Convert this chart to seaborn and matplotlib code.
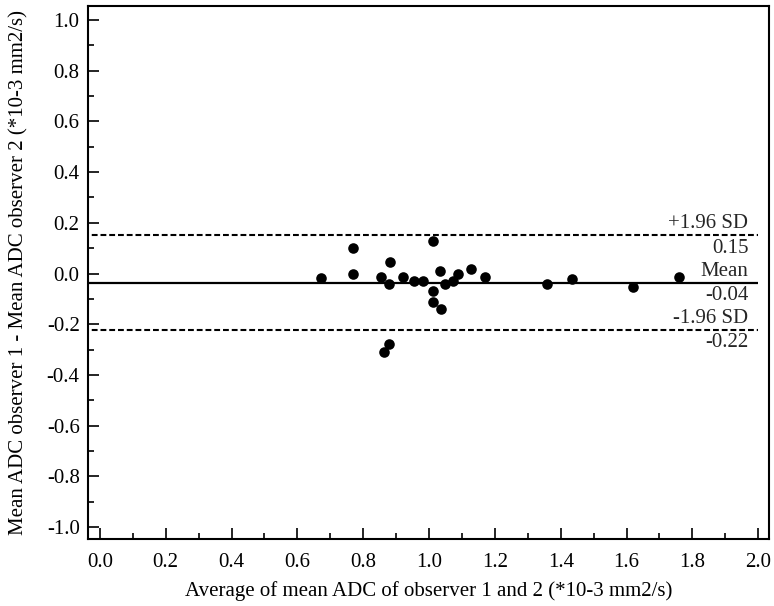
import numpy as np
import pandas as pd
import matplotlib
matplotlib.use("Agg")
import matplotlib.pyplot as plt
from matplotlib.ticker import MultipleLocator
import seaborn as sns

# -- Data ----------------------------------------------------------------------

avg_adc = [0.671, 0.768, 0.768, 0.853, 0.881, 0.877, 0.922, 0.953, 0.983,
           1.011, 1.011, 1.011, 1.033, 1.047, 1.036, 1.072, 1.088, 1.126,
           1.171, 0.877, 0.864, 1.357, 1.434, 1.618, 1.758]
diff_adc = [-0.019, 0.099, 0.000, -0.012, 0.047, -0.040, -0.012, -0.030, -0.030,
            0.130, -0.070, -0.111, 0.009, -0.043, -0.141, -0.030, 0.000, 0.016,
            -0.012, -0.279, -0.309, -0.043, -0.021, -0.052, -0.012]

mean_diff = -0.037
upper_loa = 0.150
lower_loa = -0.224

X_LABEL = "Average of mean ADC of observer 1 and 2 (*10-3 mm2/s)"
Y_LABEL = "Mean ADC observer 1 - Mean ADC observer 2 (*10-3 mm2/s)"

# -- Style ---------------------------------------------------------------------

sns.set_theme(style="white")
plt.rcParams.update({
    "font.family": ["Liberation Serif", "DejaVu Serif"],
    "font.size": 15,
    "axes.linewidth": 1.5,
    "axes.edgecolor": "black",
    "xtick.color": "black",
    "ytick.color": "black",
    "axes.labelcolor": "black",
})

df = pd.DataFrame({"avg": avg_adc, "diff": diff_adc})

fig = plt.figure(figsize=(7.74, 6.06), dpi=100)
ax = fig.add_axes([0.1137, 0.1106, 0.880, 0.8795])

sns.scatterplot(data=df, x="avg", y="diff", ax=ax, color="black",
                s=58, edgecolor="black", linewidth=0, zorder=5)

# Bland-Altman reference lines
x_end = 2.0
ax.hlines(mean_diff, -0.05, x_end, colors="black", linewidth=1.6)
ax.hlines([upper_loa, lower_loa], -0.05, x_end, colors="black",
          linewidth=1.5, linestyles=(0, (2.8, 1.4)))

txt_x = 1.97
for yv, name in [(upper_loa, "+1.96 SD"), (mean_diff, "Mean"), (lower_loa, "-1.96 SD")]:
    ax.text(txt_x, yv + 0.008, name, ha="right", va="bottom", fontsize=15)
    ax.text(txt_x, yv - 0.012, f"{yv:.2f}", ha="right", va="top", fontsize=15)

ax.set_xlim(-0.036, 2.033)
ax.set_ylim(-1.047, 1.055)

ax.xaxis.set_major_locator(MultipleLocator(0.2))
ax.xaxis.set_minor_locator(MultipleLocator(0.1))
ax.yaxis.set_major_locator(MultipleLocator(0.2))
ax.yaxis.set_minor_locator(MultipleLocator(0.1))
ax.xaxis.set_major_formatter(plt.FormatStrFormatter("%.1f"))
ax.yaxis.set_major_formatter(plt.FormatStrFormatter("%.1f"))

ax.tick_params(which="both", direction="in", bottom=True, left=True,
               top=False, right=False, width=1.2, labelsize=15)
ax.tick_params(which="major", length=8)
ax.tick_params(axis="x", which="major", pad=10)
ax.tick_params(axis="y", which="major", pad=6)
ax.tick_params(which="minor", length=4)

ax.set_xlabel(X_LABEL, fontsize=15, labelpad=7)
ax.set_ylabel(Y_LABEL, fontsize=15, labelpad=13)

fig.savefig("out.png", dpi=100)
plt.close(fig)
